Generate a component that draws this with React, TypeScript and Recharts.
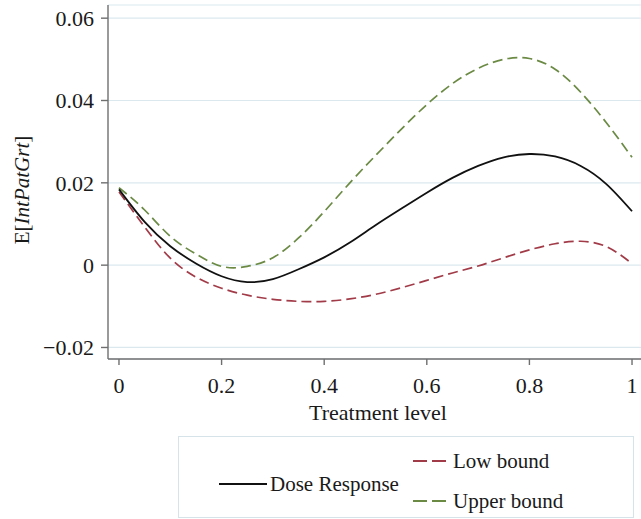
import { CartesianGrid, Line, LineChart, XAxis, YAxis } from 'recharts'

const treatmentLevels = [
  0, 0.05, 0.1, 0.15, 0.2, 0.25, 0.3, 0.35, 0.4, 0.45, 0.5,
  0.55, 0.6, 0.65, 0.7, 0.75, 0.8, 0.85, 0.9, 0.95, 1,
]
const doseResponse = [
  0.0184, 0.0105, 0.0046, 0.0004, -0.0027, -0.0041, -0.0034, -0.001, 0.0019, 0.0055, 0.0097,
  0.0137, 0.0176, 0.0212, 0.0241, 0.0262, 0.027, 0.0264, 0.0241, 0.0197, 0.0131,
]
const lowBound = [
  0.0178, 0.0093, 0.0017, -0.0029, -0.0056, -0.0073, -0.0083, -0.0088, -0.0088, -0.0082, -0.0071,
  -0.0055, -0.0037, -0.0019, -0.0002, 0.0018, 0.0037, 0.0052, 0.0058, 0.0045, 0.0004,
]
const upperBound = [
  0.0188, 0.0134, 0.007, 0.0027, -0.0003, -0.0003, 0.0018, 0.0066, 0.013, 0.02, 0.0266,
  0.033, 0.039, 0.0441, 0.0478, 0.05, 0.0502, 0.0476, 0.042, 0.0346, 0.0262,
]
const xTicks = [0, 0.2, 0.4, 0.6, 0.8, 1]
const yTicks = [-0.02, 0, 0.02, 0.04, 0.06]

const font = '"Liberation Serif", "Times New Roman", serif'
const axisColor = '#6f6f6f'
const lowColor = '#a23b48'
const upperColor = '#6b8a44'

const data = treatmentLevels.map((x, i) => ({
  x,
  dose: doseResponse[i],
  low: lowBound[i],
  upper: upperBound[i],
}))

const fmt = (v: number) => String(v).replace('-', '\u2212')

const YLabel = () => (
  <text
    transform="translate(22,190) rotate(-90)"
    textAnchor="middle"
    dominantBaseline="central"
    fontSize={21}
    style={{ fontFamily: font }}
    fill="#1a1a1a"
  >
    E[<tspan fontStyle="italic">IntPatGrt</tspan>]
  </text>
)

const XLabel = () => (
  <text x={378} y={420} textAnchor="middle" fontSize={22} style={{ fontFamily: font }} fill="#1a1a1a">
    Treatment level
  </text>
)

function ChartLegend() {
  return (
    <svg
      width={456}
      height={82}
      style={{ position: 'absolute', left: 178, top: 436, fontFamily: font }}
    >
      <rect x={0.5} y={0.5} width={455} height={81} fill="#fff" stroke="#d6e4ea" />
      <line x1={41} x2={89} y1={48} y2={48} stroke="#111" strokeWidth={1.8} />
      <text x={92} y={55} fontSize={21} fill="#1a1a1a">Dose Response</text>
      <line x1={235} x2={273} y1={25} y2={25} stroke={lowColor} strokeWidth={1.8} strokeDasharray="14 5" />
      <text x={275} y={32} fontSize={21} fill="#1a1a1a">Low bound</text>
      <line x1={235} x2={273} y1={65} y2={65} stroke={upperColor} strokeWidth={1.8} strokeDasharray="14 5" />
      <text x={275} y={72} fontSize={21} fill="#1a1a1a">Upper bound</text>
    </svg>
  )
}

export default function App() {
  return (
    <div
      style={{
        position: 'absolute',
        left: 0,
        top: 0,
        width: 641,
        height: 519,
        background: '#fff',
        fontFamily: font,
      }}
    >
      <LineChart
        width={641}
        height={519}
        data={data}
        margin={{ top: 5, right: 0, left: 0, bottom: 99 }}
        style={{ fontFamily: font }}
      >
        <CartesianGrid vertical={false} stroke="#dbe9ef" strokeWidth={1.2} />
        <XAxis
          type="number"
          dataKey="x"
          domain={[-0.0214, 1.0175]}
          allowDataOverflow
          ticks={xTicks}
          tickFormatter={fmt}
          height={61}
          tickSize={6}
          tickMargin={12}
          stroke={axisColor}
          strokeWidth={1.4}
          tick={{ fill: '#1a1a1a', fontSize: 22, style: { fontFamily: font } }}
          label={<XLabel />}
        />
        <YAxis
          type="number"
          domain={[-0.0228, 0.0632]}
          allowDataOverflow
          ticks={yTicks}
          tickFormatter={fmt}
          width={108}
          tickSize={7}
          tickMargin={7}
          stroke={axisColor}
          strokeWidth={1.4}
          tick={{ fill: '#1a1a1a', fontSize: 22, style: { fontFamily: font } }}
          label={<YLabel />}
        />
        <Line type="natural" dataKey="upper" stroke={upperColor} strokeWidth={1.7} strokeDasharray="10 5" dot={false} isAnimationActive={false} />
        <Line type="natural" dataKey="low" stroke={lowColor} strokeWidth={1.7} strokeDasharray="10 5" dot={false} isAnimationActive={false} />
        <Line type="natural" dataKey="dose" stroke="#111" strokeWidth={1.8} dot={false} isAnimationActive={false} />
      </LineChart>
      <ChartLegend />
    </div>
  )
}
